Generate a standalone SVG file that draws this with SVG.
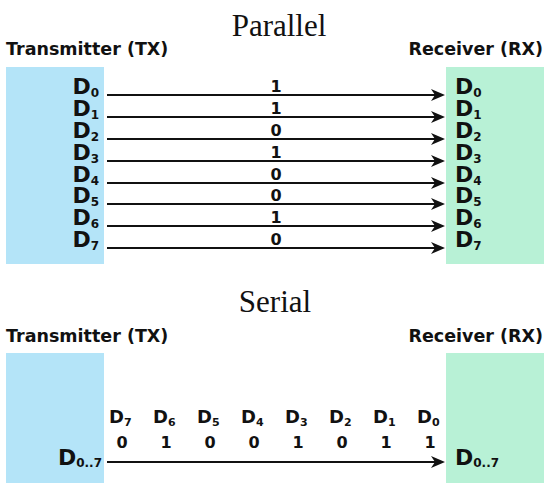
<svg xmlns="http://www.w3.org/2000/svg" width="550" height="490" viewBox="0 0 550 490">
<style>
.title{font-family:"Liberation Serif",serif;font-size:31px;fill:#111;text-anchor:middle}
.hdr{font-family:"DejaVu Sans",sans-serif;font-weight:bold;font-size:17.5px;fill:#111}
.d{font-family:"DejaVu Sans",sans-serif;font-weight:bold;font-size:22px;fill:#111}
.sub{font-size:12px}
.ds{font-family:"DejaVu Sans",sans-serif;font-weight:bold;font-size:18px;fill:#111}
.subs{font-size:11px}
.bit{font-family:"DejaVu Sans",sans-serif;font-weight:bold;font-size:16px;fill:#111;text-anchor:middle}
.tx{fill:#b4e4f8}
.rx{fill:#b8f1d6}
.wire{stroke:#111;stroke-width:2;fill:none;marker-end:url(#arr)}
</style>
<defs>
<marker id="arr" viewBox="0 0 14 12" refX="10" refY="6" markerWidth="14" markerHeight="12" orient="auto" markerUnits="userSpaceOnUse">
<path d="M0,0 L14,6 L0,12 L4,6 z" fill="#111"/>
</marker>
</defs>
<rect width="550" height="490" fill="#fff"/>

<g id="title-parallel"><text class="title" x="279" y="36">Parallel</text></g>
<g id="title-serial"><text class="title" x="275" y="312">Serial</text></g>

<g id="tx-parallel">
<text class="hdr" x="6" y="55">Transmitter (TX)</text>
<rect class="tx" x="6" y="67" width="98" height="197"/>
<g class="d" text-anchor="end">
<text x="99" y="94">D<tspan class="sub" dy="3">0</tspan></text>
<text x="99" y="116">D<tspan class="sub" dy="3">1</tspan></text>
<text x="99" y="138">D<tspan class="sub" dy="3">2</tspan></text>
<text x="99" y="160">D<tspan class="sub" dy="3">3</tspan></text>
<text x="99" y="182">D<tspan class="sub" dy="3">4</tspan></text>
<text x="99" y="203">D<tspan class="sub" dy="3">5</tspan></text>
<text x="99" y="225">D<tspan class="sub" dy="3">6</tspan></text>
<text x="99" y="247">D<tspan class="sub" dy="3">7</tspan></text>
</g>
</g>

<g id="rx-parallel">
<text class="hdr" x="543" y="55" text-anchor="end">Receiver (RX)</text>
<rect class="rx" x="446" y="67" width="98" height="197"/>
<g class="d">
<text x="455" y="94">D<tspan class="sub" dy="3">0</tspan></text>
<text x="455" y="116">D<tspan class="sub" dy="3">1</tspan></text>
<text x="455" y="138">D<tspan class="sub" dy="3">2</tspan></text>
<text x="455" y="160">D<tspan class="sub" dy="3">3</tspan></text>
<text x="455" y="182">D<tspan class="sub" dy="3">4</tspan></text>
<text x="455" y="203">D<tspan class="sub" dy="3">5</tspan></text>
<text x="455" y="225">D<tspan class="sub" dy="3">6</tspan></text>
<text x="455" y="247">D<tspan class="sub" dy="3">7</tspan></text>
</g>
</g>

<g id="tx-serial">
<text class="hdr" x="6" y="342">Transmitter (TX)</text>
<rect class="tx" x="6" y="353" width="98" height="130"/>
<text class="d" x="102" y="465" text-anchor="end">D<tspan class="sub" dy="2">0..7</tspan></text>
</g>

<g id="rx-serial">
<text class="hdr" x="543" y="342" text-anchor="end">Receiver (RX)</text>
<rect class="rx" x="446" y="353" width="98" height="130"/>
<text class="d" x="455" y="465">D<tspan class="sub" dy="2">0..7</tspan></text>
</g>

<g id="connectors">
<line class="wire" x1="107" y1="95" x2="441" y2="95"/>
<line class="wire" x1="107" y1="117" x2="441" y2="117"/>
<line class="wire" x1="107" y1="139" x2="441" y2="139"/>
<line class="wire" x1="107" y1="161" x2="441" y2="161"/>
<line class="wire" x1="107" y1="183" x2="441" y2="183"/>
<line class="wire" x1="107" y1="204" x2="441" y2="204"/>
<line class="wire" x1="107" y1="226" x2="441" y2="226"/>
<line class="wire" x1="107" y1="248" x2="441" y2="248"/>
<line class="wire" x1="107" y1="462" x2="441" y2="462"/>
</g>

<g id="parallel-bits" class="bit">
<text x="276" y="92">1</text>
<text x="276" y="114">1</text>
<text x="276" y="136">0</text>
<text x="276" y="158">1</text>
<text x="276" y="180">0</text>
<text x="276" y="201">0</text>
<text x="276" y="223">1</text>
<text x="276" y="245">0</text>
</g>

<g id="serial-bits">
<g class="ds">
<text x="109" y="423">D<tspan class="subs" dy="3">7</tspan></text>
<text x="153" y="423">D<tspan class="subs" dy="3">6</tspan></text>
<text x="197" y="423">D<tspan class="subs" dy="3">5</tspan></text>
<text x="241" y="423">D<tspan class="subs" dy="3">4</tspan></text>
<text x="285" y="423">D<tspan class="subs" dy="3">3</tspan></text>
<text x="329" y="423">D<tspan class="subs" dy="3">2</tspan></text>
<text x="373" y="423">D<tspan class="subs" dy="3">1</tspan></text>
<text x="417" y="423">D<tspan class="subs" dy="3">0</tspan></text>
</g>
<g class="bit">
<text x="122" y="448">0</text>
<text x="166" y="448">1</text>
<text x="210" y="448">0</text>
<text x="254" y="448">0</text>
<text x="298" y="448">1</text>
<text x="342" y="448">0</text>
<text x="386" y="448">1</text>
<text x="430" y="448">1</text>
</g>
</g>
</svg>
